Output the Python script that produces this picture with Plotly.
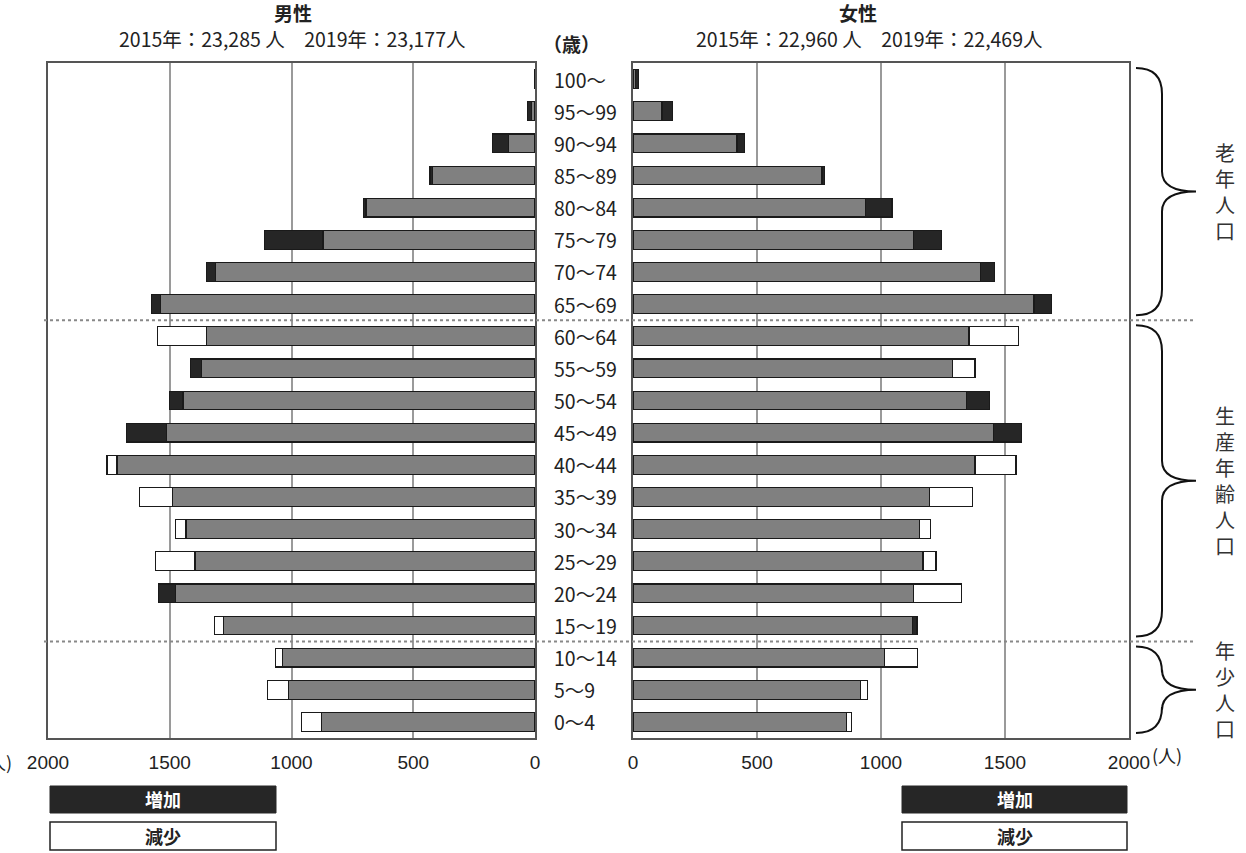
import plotly.graph_objects as go

# ---------------- data ----------------
ages = ["0～4", "5～9", "10～14", "15～19", "20～24", "25～29", "30～34", "35～39",
        "40～44", "45～49", "50～54", "55～59", "60～64", "65～69", "70～74", "75～79",
        "80～84", "85～89", "90～94", "95～99", "100～"]
male_2015 = [958, 1097, 1066, 1315, 1478, 1559, 1475, 1624, 1758, 1512, 1446, 1368,
             1550, 1539, 1313, 871, 694, 420, 110, 15, 2]
male_2019 = [876, 1011, 1036, 1280, 1545, 1396, 1433, 1489, 1717, 1679, 1500, 1416,
             1350, 1575, 1350, 1112, 705, 431, 174, 30, 3]
female_2015 = [881, 945, 1148, 1127, 1325, 1222, 1198, 1368, 1544, 1455, 1344, 1379,
               1554, 1617, 1400, 1130, 939, 762, 419, 117, 10]
female_2019 = [862, 918, 1013, 1145, 1130, 1169, 1154, 1194, 1379, 1565, 1437, 1287,
               1355, 1686, 1458, 1244, 1044, 771, 450, 158, 22]
x_ticks = [0, 500, 1000, 1500, 2000]
groups = [("老年人口", 13, 20), ("生産年齢人口", 3, 12), ("年少人口", 0, 2)]
male_title = "男性"
male_sub = "2015年：23,285 人　2019年：23,177人"
female_title = "女性"
female_sub = "2015年：22,960 人　2019年：22,469人"

# ---------------- style ----------------
W, H = 1246, 853
FONT = "Noto Sans CJK JP"
NUMFONT = "Liberation Sans, Arial, sans-serif"
GRAY, DARK = "#808080", "#262626"
PLOT_T, PLOT_B = 63, 738
MALE_L, MALE_R = 48, 535
FEM_L, FEM_R = 633, 1129


def px(x):
    return x / W


def py(y):
    return 1 - y / H


n = len(ages)
row_h = (PLOT_B - PLOT_T) / n


def row_edge(idx):  # pixel y of boundary below row idx
    return PLOT_B - idx * row_h


def split(a, b):
    base = [min(p, q) for p, q in zip(a, b)]
    inc = [max(0, q - p) for p, q in zip(a, b)]
    dec = [max(0, p - q) for p, q in zip(a, b)]
    return base, inc, dec


fig = go.Figure()
line = dict(color="#1a1a1a", width=1.2)
for (a, b, xa, ya) in [(male_2015, male_2019, "x", "y"), (female_2015, female_2019, "x2", "y2")]:
    base, inc, dec = split(a, b)
    for vals, col in [(base, GRAY), (inc, DARK), (dec, "white")]:
        fig.add_trace(go.Bar(y=ages, x=vals, orientation="h", marker=dict(color=col, line=line),
                             width=0.58, xaxis=xa, yaxis=ya, showlegend=False,
                             hoverinfo="x+y"))

axis_common = dict(tickvals=x_ticks, showgrid=True, gridcolor="#9a9a9a", gridwidth=1.5,
                   showline=True, mirror=True, linecolor="#555", linewidth=1.5,
                   zeroline=False, ticks="outside", ticklen=6, tickcolor="rgba(0,0,0,0)",
                   automargin=False,
                   tickfont=dict(size=19, color="#222", family=NUMFONT))
yaxis_common = dict(type="category", categoryorder="array", categoryarray=ages,
                    range=[-0.5, n - 0.5], showticklabels=False, showgrid=False,
                    showline=True, mirror=True, linecolor="#555", linewidth=1.5,
                    automargin=False, domain=[py(PLOT_B), py(PLOT_T)])

fig.update_layout(
    width=W, height=H, margin=dict(l=0, r=0, t=0, b=0, pad=0, autoexpand=False),
    paper_bgcolor="white", plot_bgcolor="white", barmode="stack",
    font=dict(family=FONT, color="#222"),
    xaxis=dict(domain=[px(MALE_L), px(MALE_R)], range=[2000, 0], anchor="y", **axis_common),
    xaxis2=dict(domain=[px(FEM_L), px(FEM_R)], range=[0, 2000], anchor="y2", **axis_common),
    yaxis=dict(anchor="x", **yaxis_common),
    yaxis2=dict(anchor="x2", matches="y", **yaxis_common),
)

shapes = []
ann = []


def text(x, y, s, size, color="#222", xanchor="center", bold=False, family=FONT):
    ann.append(dict(xref="paper", yref="paper", x=px(x), y=py(y),
                    text=f"<b>{s}</b>" if bold else s, showarrow=False,
                    xanchor=xanchor, yanchor="middle",
                    font=dict(size=size, color=color, family=family)))


# dotted group separators
for g in groups[:-1]:
    yb = row_edge(g[1])
    shapes.append(dict(type="line", xref="paper", yref="paper", x0=px(44), x1=px(1196),
                       y0=py(yb), y1=py(yb), line=dict(color="#888", width=2, dash="dot")))

# braces and vertical group labels
for name, lo, hi in groups:
    top = row_edge(hi + 1) + 5
    bot = row_edge(lo) - 5
    mid = (top + bot) / 2
    x0, xm, xp = 1136, 1162, 1196
    r, r2 = 26, 20
    pts = [
        f"M {px(x0)},{py(top)}",
        f"Q {px(xm)},{py(top)} {px(xm)},{py(top + r)}",
        f"L {px(xm)},{py(mid - r2)}",
        f"Q {px(xm)},{py(mid)} {px(xp)},{py(mid)}",
        f"Q {px(xm)},{py(mid)} {px(xm)},{py(mid + r2)}",
        f"L {px(xm)},{py(bot - r)}",
        f"Q {px(xm)},{py(bot)} {px(x0)},{py(bot)}",
    ]
    shapes.append(dict(type="path", xref="paper", yref="paper", path=" ".join(pts),
                       line=dict(color="#111", width=2)))
    text(1225, mid, "<br>".join(name), 20, color="#333")

# age labels
for a in ages:
    ann.append(dict(xref="paper", yref="y", x=px(552), y=a, text=a, showarrow=False,
                    xanchor="left", yanchor="middle",
                    font=dict(size=19.5, color="#222", family=FONT)))

# titles
text(293, 12, male_title, 19, bold=True)
text(292, 38, male_sub, 19.5)
text(858, 12, female_title, 19, bold=True)
text(869, 38, female_sub, 19.5)
text(571, 44, "（歳）", 19, bold=True)
text(1150, 755, "(人)", 18, xanchor="left")
text(14, 762, "(人)", 18, xanchor="right")

# legend boxes
for xl, xr in [(50, 276), (902, 1127)]:
    shapes.append(dict(type="rect", xref="paper", yref="paper", x0=px(xl), x1=px(xr),
                       y0=py(786), y1=py(813), fillcolor=DARK, line=dict(color=DARK, width=1)))
    shapes.append(dict(type="rect", xref="paper", yref="paper", x0=px(xl), x1=px(xr),
                       y0=py(822), y1=py(850), fillcolor="white", line=dict(color="#222", width=1.5)))
    text((xl + xr) / 2, 799, "増加", 18, color="white", bold=True)
    text((xl + xr) / 2, 836, "減少", 18, bold=True)

fig.update_layout(shapes=shapes, annotations=ann)
fig.write_html("out.html", config={"displayModeBar": False},
               post_script="document.body.style.margin='0';document.body.style.overflow='hidden';")
